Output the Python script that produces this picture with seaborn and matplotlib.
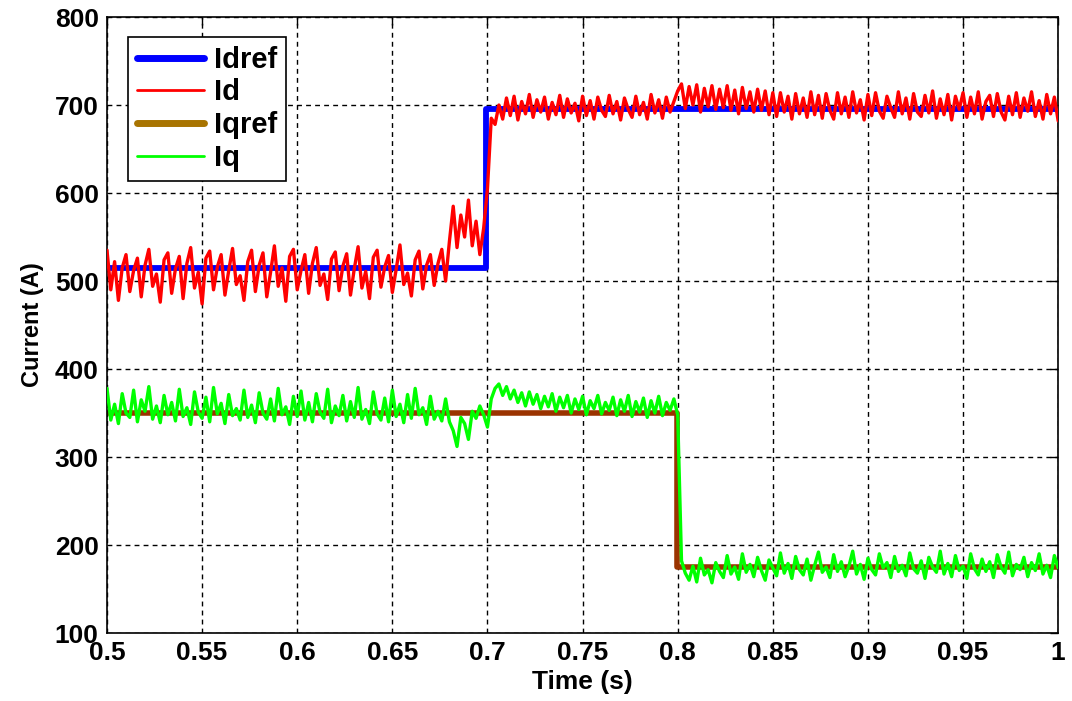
import numpy as np
import pandas as pd
import seaborn as sns
import matplotlib
matplotlib.use("Agg")
import matplotlib.pyplot as plt
from matplotlib.lines import Line2D

# Sampled time base for the measured currents (2 ms step)
time_s = np.linspace(0.5, 1.0, 251)

# Measured d-axis current (A)
id_meas = [
    535, 490, 522, 478, 515, 530, 488, 512, 526, 482,
    518, 536, 494, 508, 476, 524, 532, 486, 514, 528,
    480, 520, 538, 492, 510, 474, 526, 534, 490, 516,
    530, 484, 512, 537, 496, 506, 478, 522, 535, 488,
    518, 532, 482, 510, 540, 494, 515, 477, 528, 536,
    490, 512, 530, 486, 520, 538, 495, 508, 479, 525,
    533, 489, 517, 531, 484, 514, 539, 492, 511, 480,
    527, 535, 493, 516, 529, 487, 513, 541, 496, 509,
    483, 524, 534, 491, 518, 530, 495, 520, 536, 500,
    545, 585, 538, 575, 550, 592, 540, 568, 530, 560,
    605,
    685, 678, 700, 684, 708, 688, 710, 683, 704, 690,
    712, 686, 706, 692, 709, 684, 703, 689, 711, 686,
    707, 691, 702, 682, 710, 688, 705, 684, 709, 694,
    687, 711, 690, 704, 683, 708, 695, 686, 710, 689,
    703, 684, 712, 691, 706, 685, 709, 692, 704,
    716, 724, 696, 721, 700, 723, 692, 719, 698, 722,
    695, 718, 697, 722, 694, 717, 690, 720, 696, 715,
    692, 718, 694, 716, 689, 714,
    687, 714, 692, 710, 684, 713, 690, 708, 686, 715,
    689, 711, 685, 713, 694, 684, 714, 690, 709, 686,
    715, 691, 706, 683, 712, 688, 714, 693, 685, 710,
    697, 686, 715, 690, 708, 684, 713, 692, 687, 711,
    691, 716, 685, 707, 689, 712, 683, 710, 695, 714,
    686, 709, 690, 715, 684, 704, 711, 687, 713, 692,
    683, 710, 689, 714, 686, 708, 693, 715, 687, 705,
    684, 712, 690, 709, 682,
]

# Measured q-axis current (A)
iq_meas = [
    378, 342, 360, 338, 372, 350, 345, 376, 340, 365,
    352, 380, 343, 358, 339, 370, 348, 362, 341, 377,
    346, 356, 337, 374, 351, 344, 368, 340, 379, 349,
    361, 338, 371, 347, 355, 342, 376, 345, 359, 339,
    373, 350, 343, 366, 341, 378, 348, 357, 337, 369,
    346, 375, 342, 362, 340, 372, 351, 344, 377, 339,
    358, 347, 370, 341, 363, 345, 379, 343, 354, 338,
    374, 349, 342, 367, 340, 376, 346, 360, 339, 371,
    344, 378, 348, 356, 337, 369, 343, 352, 341, 366,
    340, 330, 312, 345, 338, 320, 352, 344, 358, 348,
    334, 366, 378, 383, 370, 380, 366, 376, 362, 373,
    358, 374, 360, 371, 355, 369, 357, 372, 352, 368,
    356, 370, 350, 366, 354, 369, 348, 364, 355, 370,
    349, 362, 353, 368, 347, 365, 352, 370, 346, 363,
    351, 367, 345, 364, 350, 369, 347, 362, 353, 366,
    348,
    182, 168, 160, 176, 158, 185, 166, 172, 157, 180,
    170, 163, 188, 167, 175, 161, 190, 169, 178, 164,
    186, 171, 160, 183, 174, 165, 191, 168, 179, 162,
    187, 172, 166, 184, 160, 177, 192, 169, 175, 163,
    189, 170, 181, 164, 176, 193, 167, 178, 161, 185,
    172, 166, 190, 174, 180, 163, 187, 170, 177, 165,
    191, 173, 168, 182, 162, 186, 175, 169, 193, 167,
    179, 164, 188, 171, 176, 162, 190, 173, 166, 184,
    170, 181, 163, 189, 175, 168, 192, 165, 178, 172,
    186, 164, 180, 171, 190, 167, 177, 163, 188, 174,
]

# Reference set-points (piecewise constant)
idref_t = [0.5, 0.699, 1.0]
idref_v = [515, 695, 695]
iqref_t = [0.5, 0.7995, 1.0]
iqref_v = [350, 175, 175]

x_ticks = [0.5, 0.55, 0.6, 0.65, 0.7, 0.75, 0.8, 0.85, 0.9, 0.95, 1.0]
x_tick_labels = ["0.5", "0.55", "0.6", "0.65", "0.7", "0.75", "0.8", "0.85", "0.9", "0.95", "1"]
y_ticks = [100, 200, 300, 400, 500, 600, 700, 800]

sns.set_style("white")
plt.rcParams["font.family"] = ["Liberation Sans", "DejaVu Sans"]
plt.rcParams["font.weight"] = "bold"
plt.rcParams["text.color"] = "black"
plt.rcParams["axes.labelcolor"] = "black"
plt.rcParams["xtick.color"] = "black"
plt.rcParams["ytick.color"] = "black"

meas = pd.DataFrame({"t": time_s, "Id": id_meas, "Iq": iq_meas})
ref_d = pd.DataFrame({"t": idref_t, "v": idref_v})
ref_q = pd.DataFrame({"t": iqref_t, "v": iqref_v})

fig = plt.figure(figsize=(10.72, 7.01), dpi=100)
ax = fig.add_axes([0.0998, 0.097, 0.8873, 0.8787])

blue = "#0000FF"
red = "#FF0000"
brown = "#9A3300"
brown_key = "#A87400"
green = "#00FF00"

sns.lineplot(data=ref_d, x="t", y="v", ax=ax, color=blue, linewidth=4.2,
             drawstyle="steps-post", zorder=2)
sns.lineplot(data=meas, x="t", y="Id", ax=ax, color=red, linewidth=2.4, zorder=3)
sns.lineplot(data=ref_q, x="t", y="v", ax=ax, color=brown, linewidth=4.0,
             drawstyle="steps-post", zorder=2)
sns.lineplot(data=meas, x="t", y="Iq", ax=ax, color=green, linewidth=2.4, zorder=3)

ax.set_xlim(0.5, 1.0)
ax.set_ylim(100, 800)
ax.set_xticks(x_ticks)
ax.set_xticklabels(x_tick_labels)
ax.set_yticks(y_ticks)

ax.grid(True, color="black", linestyle=(0, (3.5, 3.0)), linewidth=1.0)
ax.set_axisbelow(True)
for s in ax.spines.values():
    s.set_color("black")
    s.set_linewidth(1.2)
    s.set_visible(True)

ax.tick_params(direction="in", length=6, width=1.0, top=True, right=True,
               labelsize=19, pad=6, colors="black")
for lab in ax.get_xticklabels() + ax.get_yticklabels():
    lab.set_fontweight("bold")

ax.set_xlabel("Time (s)", fontsize=19, fontweight="bold", labelpad=3, color="black")
ax.set_ylabel("Current (A)", fontsize=17, fontweight="bold", labelpad=8, color="black")

handles = [
    Line2D([], [], color=blue, linewidth=5.0),
    Line2D([], [], color=red, linewidth=2.0),
    Line2D([], [], color=brown_key, linewidth=5.0),
    Line2D([], [], color=green, linewidth=2.0),
]
leg = ax.legend(handles, ["Idref", "Id", "Iqref", "Iq"], loc="upper left",
                bbox_to_anchor=(0.022, 0.9675), borderaxespad=0,
                prop={"weight": "bold", "size": 21},
                handlelength=2.3, handletextpad=0.35, labelspacing=0.16,
                borderpad=0.3, fancybox=False, framealpha=1.0)
leg.get_frame().set_edgecolor("black")
leg.get_frame().set_linewidth(1.2)

fig.savefig("out.png", dpi=100)
